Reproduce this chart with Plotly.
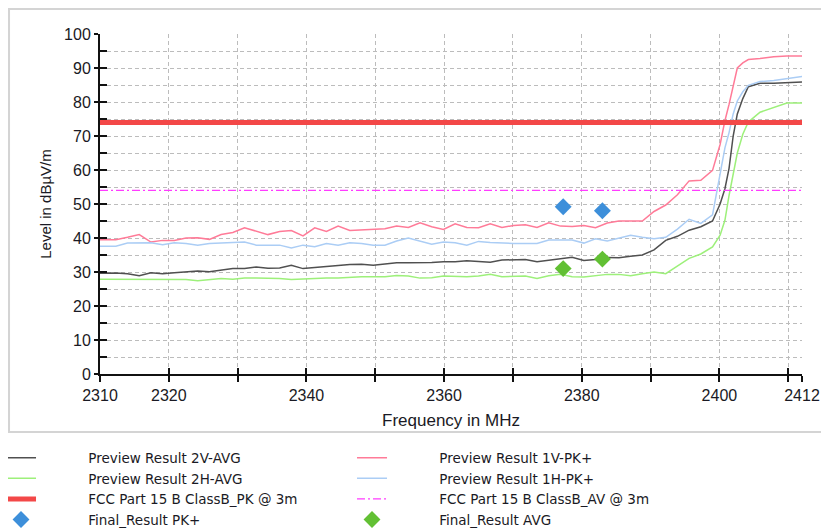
import plotly.graph_objects as go

# ---------------- data ----------------
freq_mhz = [2310.0, 2312.3, 2314.0, 2315.7, 2317.4, 2319.1, 2320.8, 2322.5, 2324.2, 2325.9,
            2327.6, 2329.3, 2331.0, 2332.7, 2334.4, 2336.1, 2337.8, 2339.5, 2341.2, 2342.9,
            2344.6, 2346.3, 2348.0, 2349.7, 2351.4, 2353.1, 2354.8, 2356.5, 2358.2, 2359.9,
            2361.6, 2363.3, 2365.0, 2366.7, 2368.4, 2370.1, 2371.8, 2373.5, 2375.2, 2376.9,
            2378.6, 2380.3, 2382.0, 2383.7, 2385.4, 2387.1, 2388.8, 2390.5, 2392.2, 2393.9,
            2395.6, 2397.3, 2399.0,
            2400.1, 2400.8, 2401.4, 2402.0, 2402.6, 2403.4, 2404.2, 2405.9, 2407.9, 2409.8, 2412.0]

preview_2v_avg = [29.6, 29.7, 29.5, 28.9, 29.8, 29.5, 29.8, 30.0, 30.3, 30.1,
                  30.5, 31.0, 31.0, 31.5, 31.1, 31.2, 32.0, 31.0, 31.3, 31.5,
                  31.9, 32.2, 32.3, 32.0, 32.4, 32.7, 32.7, 32.7, 32.8, 33.0,
                  33.0, 33.3, 33.2, 32.9, 33.5, 33.5, 33.7, 33.0, 33.5, 34.0,
                  34.3, 33.4, 33.7, 34.3, 34.2, 34.6, 35.0, 36.5, 39.3, 40.5,
                  42.3, 43.3, 45.0,
                  50.0, 54.5, 60.5, 70.0, 76.5, 81.0, 84.5, 85.5, 85.5, 85.6, 85.9]

preview_1v_pk = [39.5, 39.5, 40.2, 41.0, 38.8, 39.3, 39.3, 40.0, 40.1, 39.6,
                 41.0, 41.6, 43.0, 41.9, 41.0, 41.9, 42.2, 40.6, 43.0, 41.9,
                 43.5, 42.2, 42.3, 42.4, 42.7, 43.5, 43.1, 44.5, 43.3, 42.5,
                 44.2, 43.1, 43.0, 44.2, 43.1, 43.7, 43.9, 43.1, 44.5, 43.5,
                 43.4, 43.7, 43.0, 44.4, 45.0, 45.0, 45.0, 47.8, 49.7, 52.7,
                 56.8, 57.0, 59.9,
                 67.5, 74.5, 79.3, 84.5, 90.0, 91.5, 92.5, 92.8, 93.3, 93.5, 93.5]

preview_2h_avg = [27.9, 27.9, 27.9, 27.9, 27.9, 27.9, 27.9, 27.8, 27.4, 27.8,
                  28.1, 27.9, 28.2, 28.2, 28.2, 28.1, 27.8, 28.0, 28.2, 28.2,
                  28.2, 28.5, 28.6, 28.6, 28.6, 29.0, 28.8, 28.2, 28.3, 28.8,
                  28.7, 28.6, 28.8, 29.3, 28.6, 28.7, 28.8, 28.1, 28.9, 29.3,
                  28.6, 28.5, 28.8, 29.3, 29.3, 28.9, 29.5, 30.0, 29.5, 31.8,
                  34.0, 35.3, 37.4,
                  40.8, 45.2, 52.5, 58.5, 65.0, 70.5, 74.1, 77.0, 78.5, 79.7, 79.7]

preview_1h_pk = [37.6, 37.6, 38.5, 38.6, 38.6, 38.0, 38.6, 38.4, 37.9, 38.4,
                 38.6, 38.7, 38.8, 37.9, 37.9, 37.9, 37.1, 37.9, 37.4, 38.4,
                 37.9, 38.6, 38.4, 37.9, 37.9, 39.1, 40.0, 39.1, 38.2, 38.8,
                 38.6, 37.9, 39.0, 38.7, 38.5, 38.4, 38.4, 38.4, 39.4, 39.4,
                 39.4, 38.5, 39.8, 39.1, 40.0, 40.8, 40.2, 39.8, 40.2, 42.6,
                 45.5, 44.3, 46.8,
                 58.9, 66.5, 71.0, 76.5, 80.3, 83.0, 84.9, 86.0, 86.3, 86.8, 87.5]

limit_freq = [2310, 2412]
limit_pk = [74, 74]
limit_av = [54, 54]

final_freq = [2377.3, 2383.0]
final_pk = [49.2, 48.0]
final_avg = [31.0, 33.8]

x_tick_vals = [2310, 2320, 2330, 2340, 2350, 2360, 2370, 2380, 2390, 2400, 2410, 2412]
x_tick_text = ["2310", "2320", "", "2340", "", "2360", "", "2380", "", "2400", "", "2412"]

# ---------------- figure ----------------
fig = go.Figure()

NB = "\u00a0" * 11

fig.add_trace(go.Scatter(x=freq_mhz, y=preview_2v_avg, mode="lines", name=NB + "Preview Result 2V-AVG",
                         line=dict(color="#505050", width=1.5)))
fig.add_trace(go.Scatter(x=freq_mhz, y=preview_1v_pk, mode="lines", name=NB + "Preview Result 1V-PK+",
                         line=dict(color="#ff7b98", width=1.5)))
fig.add_trace(go.Scatter(x=freq_mhz, y=preview_2h_avg, mode="lines", name=NB + "Preview Result 2H-AVG",
                         line=dict(color="#9df07a", width=1.5)))
fig.add_trace(go.Scatter(x=freq_mhz, y=preview_1h_pk, mode="lines", name=NB + "Preview Result 1H-PK+",
                         line=dict(color="#abcdf5", width=1.5)))
fig.add_trace(go.Scatter(x=limit_freq, y=limit_pk, mode="lines", name=NB + "FCC Part 15 B ClassB_PK @ 3m",
                         line=dict(color="#f34848", width=5)))
fig.add_trace(go.Scatter(x=limit_freq, y=limit_av, mode="lines", name=NB + "FCC Part 15 B ClassB_AV @ 3m",
                         line=dict(color="#ff3cff", width=1.3, dash="8px,3px,2px,3px")))
fig.add_trace(go.Scatter(x=final_freq, y=final_pk, mode="markers", name=NB + "Final_Result PK+",
                         marker=dict(symbol="diamond", size=13, color="#3d8fda")))
fig.add_trace(go.Scatter(x=final_freq, y=final_avg, mode="markers", name=NB + "Final_Result AVG",
                         marker=dict(symbol="diamond", size=13, color="#62c034")))

tick_font = dict(family="Liberation Sans, Arial, sans-serif", size=16, color="#1a1a24")
GRID = "#bcbcbc"
GDASH = "4px,3px"

fig.update_layout(
    width=829, height=528,
    margin=dict(l=92, r=35, t=26, b=162, autoexpand=False),
    paper_bgcolor="white", plot_bgcolor="white",
    font=dict(family="Liberation Sans, Arial, sans-serif", size=15, color="#1a1a24"),
    showlegend=True,
    legend=dict(orientation="h", x=-0.141, xanchor="left", y=-0.2015, yanchor="top",
                entrywidth=306, entrywidthmode="pixels", traceorder="normal",
                font=dict(family="DejaVu Sans, Liberation Sans, sans-serif", size=13.5, color="#1a1a24"),
                bgcolor="rgba(0,0,0,0)", itemwidth=30),
    xaxis=dict(range=[2310, 2412], tickmode="array", tickvals=x_tick_vals, ticktext=x_tick_text,
               showgrid=True, gridcolor=GRID, griddash=GDASH, gridwidth=1,
               showline=True, linecolor="#111111", linewidth=2, zeroline=False,
               ticks="outside", ticklen=6, tickwidth=2, tickcolor="#111111",
               tickfont=tick_font,
               title=dict(text="Frequency in MHz", font=dict(size=17), standoff=11)),
    yaxis=dict(range=[0, 100], dtick=10, tick0=0,
               showgrid=True, gridcolor=GRID, griddash=GDASH, gridwidth=1,
               minor=dict(dtick=5, tick0=0, showgrid=True, gridcolor=GRID, griddash=GDASH,
                          ticks="", gridwidth=1),
               showline=True, linecolor="#111111", linewidth=2, zeroline=False,
               ticks="outside", ticklen=4, tickwidth=2, tickcolor="#111111",
               tickfont=tick_font,
               title=dict(text="Level in dBµV/m", font=dict(size=15), standoff=9)),
    xaxis2=dict(overlaying="x", matches="x", anchor="y", side="bottom",
                tickmode="array", tickvals=x_tick_vals, showticklabels=False,
                showgrid=False, showline=False, zeroline=False,
                ticks="inside", ticklen=6, tickwidth=2, tickcolor="#111111"),
    yaxis2=dict(overlaying="y", matches="y", anchor="x", side="left",
                dtick=5, tick0=0, showticklabels=False,
                showgrid=False, showline=False, zeroline=False,
                ticks="inside", ticklen=7, tickwidth=2, tickcolor="#111111"),
    shapes=[dict(type="rect", xref="paper", yref="paper",
                 x0=-0.1296, x1=1.07, y0=-0.1703, y1=1.0735,
                 line=dict(color="#d4d4d4", width=2), fillcolor="rgba(0,0,0,0)", layer="below")],
)

# invisible helper traces so the overlay tick axes are instantiated
fig.add_trace(go.Scatter(x=[2310, 2412], y=[0, 100], xaxis="x2", yaxis="y", mode="lines",
                         line=dict(width=0, color="rgba(0,0,0,0)"), showlegend=False, hoverinfo="skip"))
fig.add_trace(go.Scatter(x=[2310, 2412], y=[0, 100], xaxis="x", yaxis="y2", mode="lines",
                         line=dict(width=0, color="rgba(0,0,0,0)"), showlegend=False, hoverinfo="skip"))

fig.write_html("out.html")
